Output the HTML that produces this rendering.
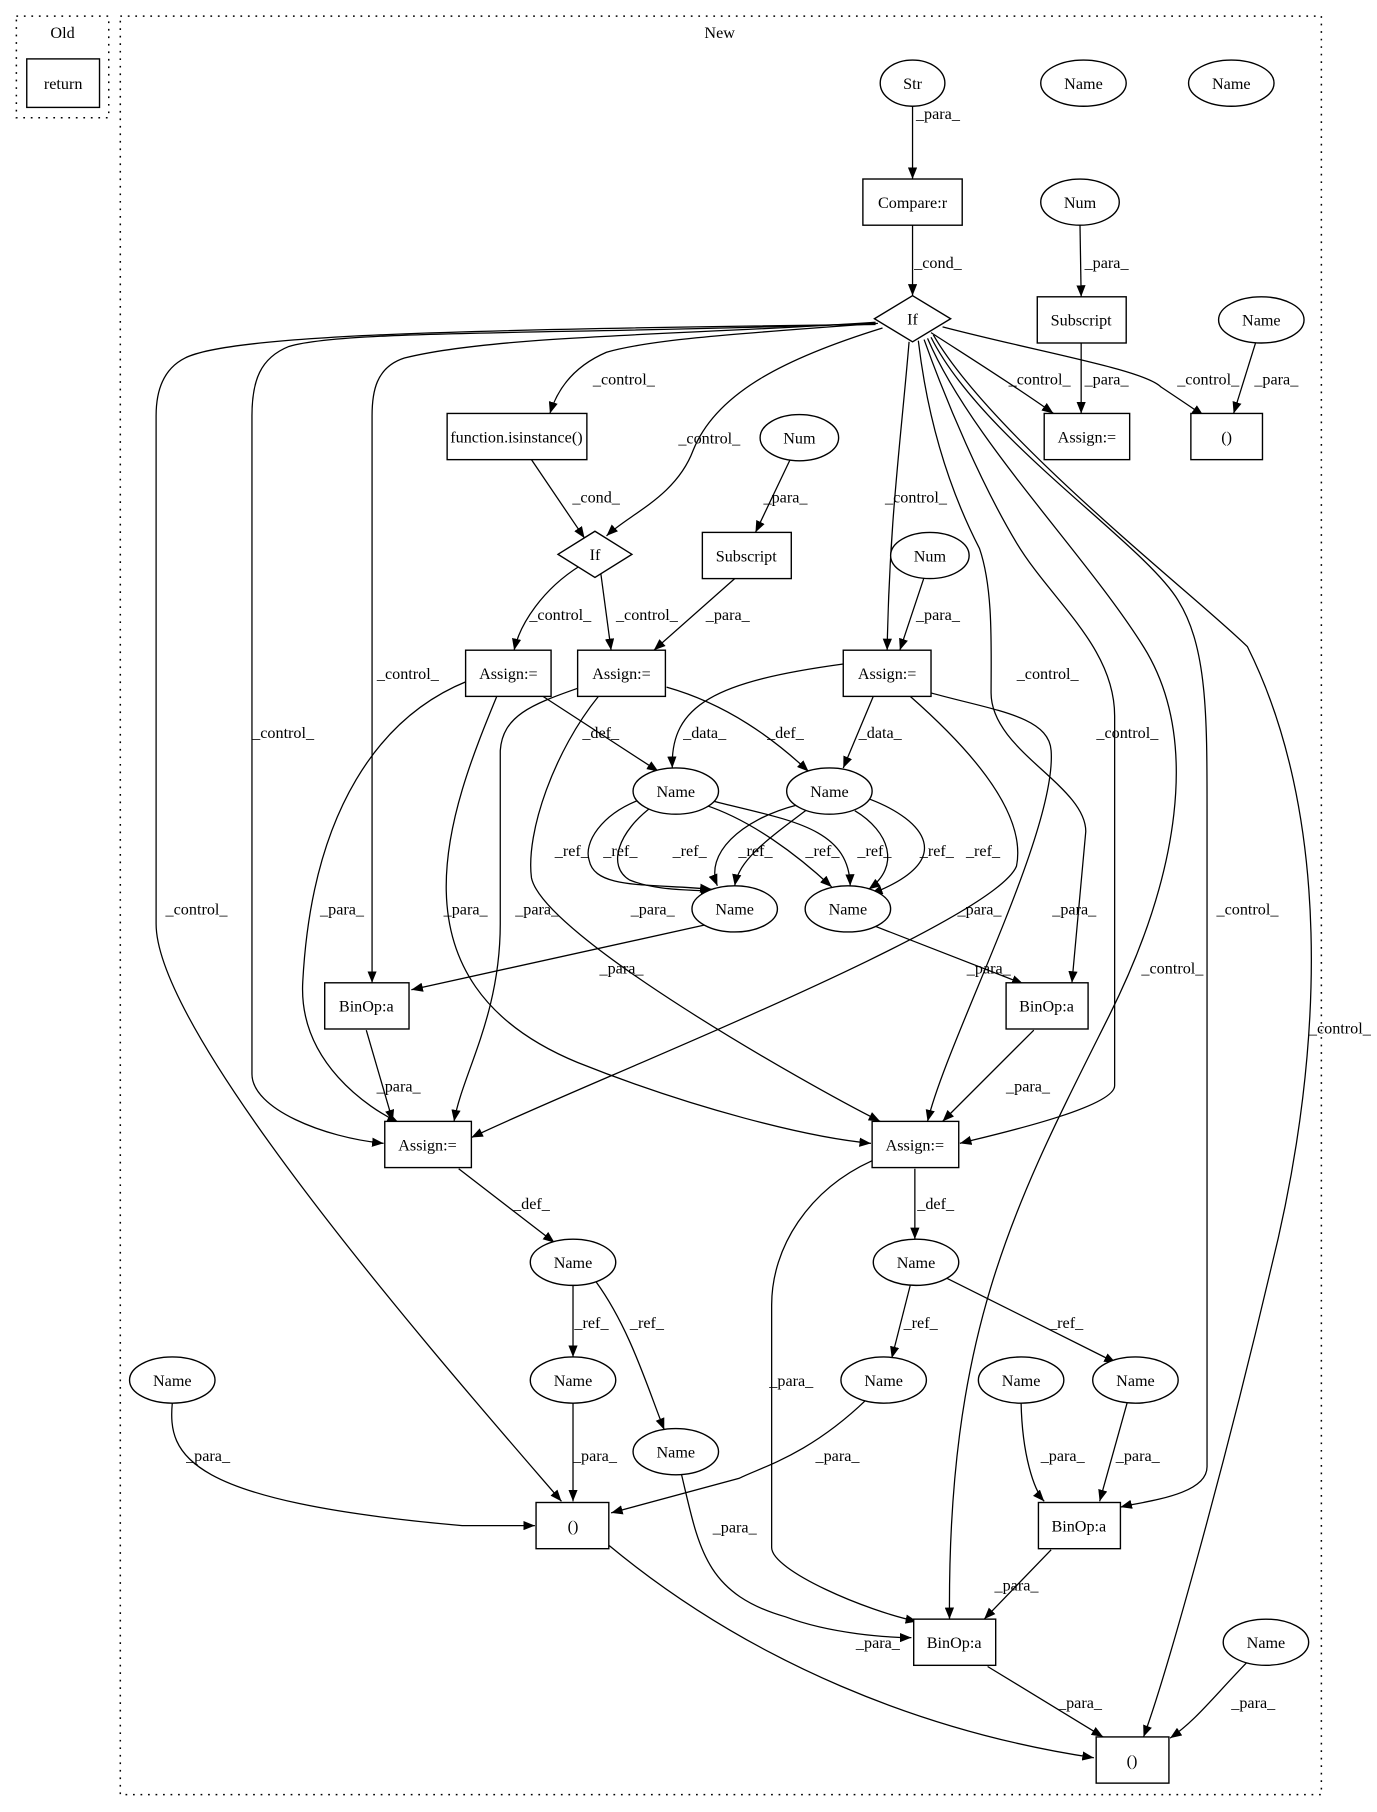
<!DOCTYPE html>
<html><head><meta charset="utf-8"><style>
html,body{margin:0;padding:0;background:#fff}
svg{display:block}
text{font-family:"Liberation Serif",serif;font-size:14px;fill:#000}
.n{fill:#fff;stroke:#000;stroke-width:1.2}
.e{fill:none;stroke:#000;stroke-width:1.1;marker-end:url(#a)}
.c{fill:none;stroke:#000;stroke-width:1.3;stroke-dasharray:1.5 5}
</style></head><body>
<svg width="1377" height="1812" viewBox="0 0 1192 1569" xmlns="http://www.w3.org/2000/svg">
<defs><marker id="a" markerWidth="10" markerHeight="8" refX="10" refY="4" orient="auto" markerUnits="userSpaceOnUse"><path d="M0,0 L10,4 L0,8 z" fill="#000"/></marker></defs>
<rect class="c" x="14" y="14" width="80" height="88"/>
<text x="54" y="33" text-anchor="middle">Old</text>
<rect class="n" x="23" y="51" width="63" height="42"/>
<text x="54.5" y="77" text-anchor="middle">return</text>
<rect class="c" x="104" y="14" width="1040" height="1540"/>
<text x="623" y="33" text-anchor="middle">New</text>

<g>
<path class="e" d="M790,92 L790,155"/>
<path class="e" d="M790,195 L790,256"/>
<path class="e" d="M935,195 L936,257"/>
<path class="e" d="M936,297 L936,358"/>
<path class="e" d="M1087,297 L1068,358"/>
<path class="e" d="M806,288 C840,310 880,335 912,358"/>
<path class="e" d="M816,283 C900,305 990,320 1005,335 C1020,345 1035,355 1042,360"/>
<path class="e" d="M760,280 C620,290 560,295 525,305 C490,320 480,345 476,358"/>
<path class="e" d="M764,284 C680,310 620,340 600,390 C585,430 545,445 525,464"/>
<path class="e" d="M460,398 L506,466"/>
<path class="e" d="M684,398 L654,461"/>
<path class="e" d="M787,296 C780,380 770,450 768,563"/>
<path class="e" d="M800,500 L779,563"/>
<path class="e" d="M502,490 C470,510 450,540 445,563"/>
<path class="e" d="M520,496 L529,563"/>
<path class="e" d="M636,501 L566,563"/>
<path class="e" d="M470,603 L570,668"/>
<path class="e" d="M577,595 C630,610 670,640 700,668"/>
<path class="e" d="M730,575 C620,590 580,610 582,665"/>
<path class="e" d="M756,603 L730,665"/>
<path class="e" d="M555,692 C520,705 505,730 510,745 C515,770 560,765 616,770"/>
<path class="e" d="M565,698 C535,720 525,750 545,762 C570,772 600,770 617,772"/>
<path class="e" d="M690,697 C640,710 610,740 621,767"/>
<path class="e" d="M700,700 C660,730 640,745 636,767"/>
<path class="e" d="M610,697 C650,710 690,740 720,768"/>
<path class="e" d="M615,693 C680,710 735,715 736,767"/>
<path class="e" d="M740,702 C770,720 780,750 752,770"/>
<path class="e" d="M753,692 C800,710 830,745 754,774"/>
<path class="e" d="M610,801 L356,857"/>
<path class="e" d="M755,801 L886,852"/>
<path class="e" d="M758,279 C600,290 430,290 350,310 C325,318 322,340 322,360 L322,851"/>
<path class="e" d="M758,280 C500,290 300,285 250,300 C225,310 218,330 218,360 L218,930 C218,960 280,985 332,990"/>
<path class="e" d="M758,281 C400,285 200,290 160,310 C140,320 135,340 135,360 L135,800 C135,900 400,1200 486,1300"/>
<path class="e" d="M795,295 C805,380 830,440 848,475 C860,510 858,560 858,600 C858,650 940,680 940,720 L928,851"/>
<path class="e" d="M800,294 C820,350 850,420 880,470 C910,520 965,560 965,620 L965,940 C965,960 850,985 831,990"/>
<path class="e" d="M803,293 C840,380 940,480 990,560 C1040,640 1020,760 960,880 C880,1040 820,1150 822,1402"/>
<path class="e" d="M806,292 C850,380 990,470 1020,520 C1045,560 1045,620 1045,700 L1045,1270 C1045,1295 990,1300 970,1305"/>
<path class="e" d="M808,290 C860,380 1040,520 1080,560 C1150,700 1150,900 1100,1100 C1060,1270 1010,1450 990,1504"/>
<path class="e" d="M404,590 C330,620 270,700 262,850 C258,920 320,960 345,972"/>
<path class="e" d="M430,603 C390,700 330,850 500,920 C600,960 700,985 754,990"/>
<path class="e" d="M500,596 C460,610 435,620 433,650 L433,800 C433,880 400,930 393,971"/>
<path class="e" d="M518,603 C480,650 455,720 460,760 C470,810 700,940 762,971"/>
<path class="e" d="M788,603 C830,640 890,700 880,750 C860,800 500,940 408,985"/>
<path class="e" d="M806,600 C860,615 908,620 910,650 C915,720 820,900 803,971"/>
<path class="e" d="M317,892 L340,971"/>
<path class="e" d="M895,892 L816,971"/>
<path class="e" d="M397,1012 L480,1076"/>
<path class="e" d="M792,1012 L792,1073"/>
<path class="e" d="M496,1113 L496,1175"/>
<path class="e" d="M516,1110 C545,1150 560,1200 575,1238"/>
<path class="e" d="M788,1113 L772,1176"/>
<path class="e" d="M820,1107 L966,1180"/>
<path class="e" d="M149,1215 C145,1260 160,1300 400,1321 L463,1321"/>
<path class="e" d="M496,1215 L496,1300"/>
<path class="e" d="M750,1212 C700,1260 660,1270 640,1280 L529,1310"/>
<path class="e" d="M884,1215 C885,1260 895,1290 904,1300"/>
<path class="e" d="M976,1214 L952,1300"/>
<path class="e" d="M590,1277 C605,1340 610,1380 680,1400 C720,1415 770,1418 789,1418"/>
<path class="e" d="M755,1005 C700,1030 668,1080 668,1130 L668,1340 C668,1360 750,1395 794,1404"/>
<path class="e" d="M910,1342 L852,1402"/>
<path class="e" d="M527,1338 C650,1440 800,1500 947,1522"/>
<path class="e" d="M855,1443 L955,1504"/>
<path class="e" d="M1080,1439 C1050,1470 1035,1490 1013,1505"/>
</g>

<g text-anchor="middle">
<text x="812" y="103">_para_</text>
<text x="812" y="232">_cond_</text>
<text x="958" y="232">_para_</text>
<text x="900" y="333">_control_</text>
<text x="958" y="333">_para_</text>
<text x="1046" y="333">_control_</text>
<text x="1105" y="333">_para_</text>
<text x="540" y="333">_control_</text>
<text x="614" y="384">_control_</text>
<text x="516" y="435">_cond_</text>
<text x="680" y="435">_para_</text>
<text x="793" y="435">_control_</text>
<text x="485" y="537">_control_</text>
<text x="560" y="537">_control_</text>
<text x="630" y="537">_para_</text>
<text x="812" y="537">_para_</text>
<text x="353" y="588">_control_</text>
<text x="907" y="588">_control_</text>
<text x="245" y="639">_control_</text>
<text x="520" y="639">_def_</text>
<text x="610" y="639">_data_</text>
<text x="680" y="639">_def_</text>
<text x="762" y="639">_data_</text>
<text x="976" y="639">_control_</text>
<text x="495" y="741">_ref_</text>
<text x="537" y="741">_ref_</text>
<text x="597" y="741">_ref_</text>
<text x="654" y="741">_ref_</text>
<text x="712" y="741">_ref_</text>
<text x="757" y="741">_ref_</text>
<text x="811" y="741">_ref_</text>
<text x="851" y="741">_ref_</text>
<text x="170" y="792">_control_</text>
<text x="296" y="792">_para_</text>
<text x="403" y="792">_para_</text>
<text x="465" y="792">_para_</text>
<text x="565" y="792">_para_</text>
<text x="848" y="792">_para_</text>
<text x="930" y="792">_para_</text>
<text x="1080" y="792">_control_</text>
<text x="538" y="843">_para_</text>
<text x="856" y="843">_para_</text>
<text x="1015" y="843">_control_</text>
<text x="1160" y="895">_control_</text>
<text x="345" y="945">_para_</text>
<text x="890" y="945">_para_</text>
<text x="460" y="1047">_def_</text>
<text x="810" y="1047">_def_</text>
<text x="512" y="1150">_ref_</text>
<text x="560" y="1150">_ref_</text>
<text x="797" y="1150">_ref_</text>
<text x="923" y="1150">_ref_</text>
<text x="685" y="1200">_para_</text>
<text x="180" y="1265">_para_</text>
<text x="515" y="1265">_para_</text>
<text x="725" y="1265">_para_</text>
<text x="920" y="1265">_para_</text>
<text x="985" y="1265">_para_</text>
<text x="636" y="1327">_para_</text>
<text x="880" y="1377">_para_</text>
<text x="760" y="1427">_para_</text>
<text x="935" y="1479">_para_</text>
<text x="1085" y="1479">_para_</text>
</g>

<g>
<rect class="n" x="747" y="155" width="86" height="40"/>
<rect class="n" x="898" y="257" width="77" height="40"/>
<rect class="n" x="387" y="358" width="121" height="40"/>
<rect class="n" x="904" y="358" width="74" height="40"/>
<rect class="n" x="1031" y="358" width="62" height="40"/>
<rect class="n" x="608" y="461" width="77" height="40"/>
<rect class="n" x="403" y="563" width="74" height="40"/>
<rect class="n" x="500" y="563" width="76" height="40"/>
<rect class="n" x="730" y="563" width="76" height="40"/>
<rect class="n" x="281" y="851" width="73" height="40"/>
<rect class="n" x="871" y="851" width="71" height="40"/>
<rect class="n" x="333" y="971" width="75" height="40"/>
<rect class="n" x="755" y="971" width="75" height="40"/>
<rect class="n" x="464" y="1301" width="63" height="40"/>
<rect class="n" x="899" y="1301" width="71" height="40"/>
<rect class="n" x="791" y="1402" width="71" height="40"/>
<rect class="n" x="949" y="1504" width="63" height="40"/>
<polygon class="n" points="757,276 790,256 823,276 790,296"/>
<polygon class="n" points="483,480 515,460 547,480 515,500"/>
</g>
<g>
<ellipse class="n" cx="790" cy="72" rx="28" ry="20"/>
<ellipse class="n" cx="938" cy="72" rx="37" ry="20"/>
<ellipse class="n" cx="1066" cy="72" rx="37" ry="20"/>
<ellipse class="n" cx="935" cy="175" rx="34" ry="20"/>
<ellipse class="n" cx="1092" cy="277" rx="37" ry="20"/>
<ellipse class="n" cx="692" cy="379" rx="34" ry="20"/>
<ellipse class="n" cx="805" cy="481" rx="34" ry="20"/>
<ellipse class="n" cx="585" cy="685" rx="37" ry="20"/>
<ellipse class="n" cx="718" cy="685" rx="37" ry="20"/>
<ellipse class="n" cx="636" cy="787" rx="37" ry="20"/>
<ellipse class="n" cx="734" cy="787" rx="37" ry="20"/>
<ellipse class="n" cx="496" cy="1093" rx="37" ry="20"/>
<ellipse class="n" cx="793" cy="1093" rx="37" ry="20"/>
<ellipse class="n" cx="149" cy="1195" rx="37" ry="20"/>
<ellipse class="n" cx="496" cy="1195" rx="37" ry="20"/>
<ellipse class="n" cx="765" cy="1195" rx="37" ry="20"/>
<ellipse class="n" cx="884" cy="1195" rx="37" ry="20"/>
<ellipse class="n" cx="983" cy="1195" rx="37" ry="20"/>
<ellipse class="n" cx="585" cy="1257" rx="37" ry="20"/>
<ellipse class="n" cx="1096" cy="1422" rx="37" ry="20"/>
</g>

<g text-anchor="middle">
<text x="790" y="77">Str</text>
<text x="938" y="77">Name</text>
<text x="1066" y="77">Name</text>
<text x="790" y="180">Compare:r</text>
<text x="935" y="180">Num</text>
<text x="790" y="281">If</text>
<text x="936" y="282">Subscript</text>
<text x="1092" y="282">Name</text>
<text x="447" y="383">function.isinstance()</text>
<text x="692" y="384">Num</text>
<text x="941" y="383">Assign:=</text>
<text x="1062" y="383">()</text>
<text x="515" y="485">If</text>
<text x="646" y="486">Subscript</text>
<text x="805" y="486">Num</text>
<text x="440" y="588">Assign:=</text>
<text x="538" y="588">Assign:=</text>
<text x="768" y="588">Assign:=</text>
<text x="585" y="690">Name</text>
<text x="718" y="690">Name</text>
<text x="636" y="792">Name</text>
<text x="734" y="792">Name</text>
<text x="317" y="876">BinOp:a</text>
<text x="906" y="876">BinOp:a</text>
<text x="370" y="996">Assign:=</text>
<text x="792" y="996">Assign:=</text>
<text x="496" y="1098">Name</text>
<text x="793" y="1098">Name</text>
<text x="149" y="1200">Name</text>
<text x="496" y="1200">Name</text>
<text x="765" y="1200">Name</text>
<text x="884" y="1200">Name</text>
<text x="983" y="1200">Name</text>
<text x="585" y="1262">Name</text>
<text x="496" y="1326">()</text>
<text x="934" y="1326">BinOp:a</text>
<text x="826" y="1427">BinOp:a</text>
<text x="1096" y="1427">Name</text>
<text x="980" y="1529">()</text>
</g>
</svg>
</body></html>
